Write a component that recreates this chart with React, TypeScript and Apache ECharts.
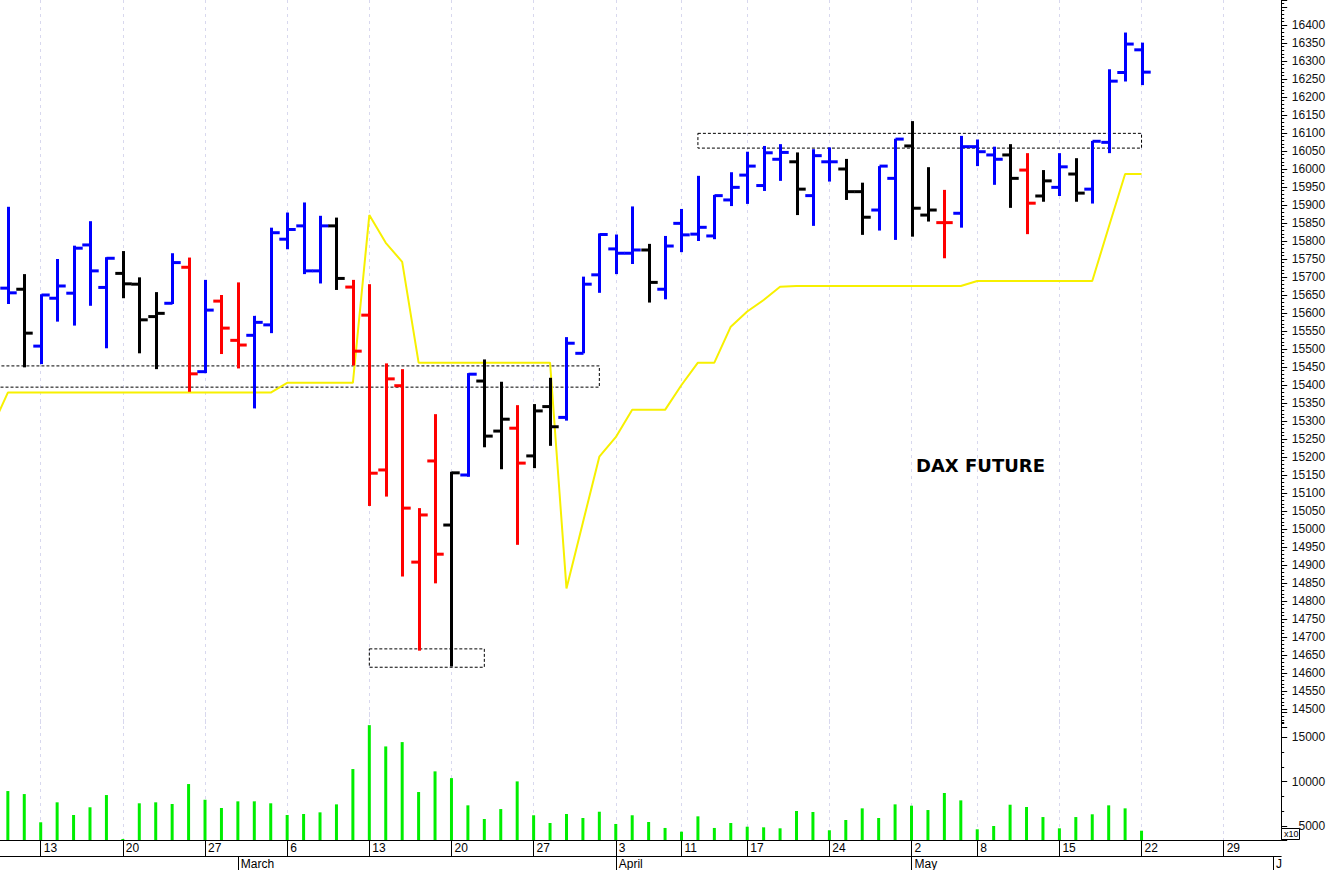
import React, { useEffect, useRef } from "react";
import * as echarts from "echarts";

// Trading days shown on the axis (Feb 8 is just off the left edge; May 23 - Jun 1 are empty future days)
const dates: string[] = [
  "2023-02-08", "2023-02-09", "2023-02-10",
  "2023-02-13", "2023-02-14", "2023-02-15", "2023-02-16", "2023-02-17",
  "2023-02-20", "2023-02-21", "2023-02-22", "2023-02-23", "2023-02-24",
  "2023-02-27", "2023-02-28", "2023-03-01", "2023-03-02", "2023-03-03",
  "2023-03-06", "2023-03-07", "2023-03-08", "2023-03-09", "2023-03-10",
  "2023-03-13", "2023-03-14", "2023-03-15", "2023-03-16", "2023-03-17",
  "2023-03-20", "2023-03-21", "2023-03-22", "2023-03-23", "2023-03-24",
  "2023-03-27", "2023-03-28", "2023-03-29", "2023-03-30", "2023-03-31",
  "2023-04-03", "2023-04-04", "2023-04-05", "2023-04-06",
  "2023-04-11", "2023-04-12", "2023-04-13", "2023-04-14",
  "2023-04-17", "2023-04-18", "2023-04-19", "2023-04-20", "2023-04-21",
  "2023-04-24", "2023-04-25", "2023-04-26", "2023-04-27", "2023-04-28",
  "2023-05-02", "2023-05-03", "2023-05-04", "2023-05-05",
  "2023-05-08", "2023-05-09", "2023-05-10", "2023-05-11", "2023-05-12",
  "2023-05-15", "2023-05-16", "2023-05-17", "2023-05-18", "2023-05-19",
  "2023-05-22", "2023-05-23", "2023-05-24", "2023-05-25", "2023-05-26",
  "2023-05-29", "2023-05-30", "2023-05-31", "2023-06-01",
];

// OHLC bars from Feb 9 (category index 1) to May 22 (category index 70)
const barOpen = [
  15669, 15666, 15508, 15641, 15655, 15789, 15671, 15710, 15680, 15590,
  15627, 15727, 15437, 15633, 15524, 15538, 15567, 15805, 15842, 15717,
  15842, 15672, 15594, 15164, 15398, 14908, 15189, 15011, 15150, 15411,
  15272, 15280, 15203, 15340, 15310, 15488, 15706, 15778, 15766, 15775,
  15666, 15849, 15819, 15814, 15914, 15983, 15954, 16027, 16020, 15926,
  16020, 16000, 15937, 15886, 15974, 16064, 15872, 15851, 15877, 16062,
  16039, 16039, 15997, 15925, 15949, 15986, 15944, 16074, 16268, 16331,
];
const barHigh = [
  15895, 15708, 15652, 15750, 15787, 15855, 15755, 15772, 15699, 15658,
  15766, 15754, 15692, 15650, 15685, 15592, 15837, 15879, 15907, 15870,
  15865, 15692, 15680, 15460, 15444, 15058, 15319, 15159, 15433, 15471,
  15409, 15344, 15347, 15420, 15533, 15701, 15821, 15818, 15896, 15792,
  15814, 15889, 15981, 15928, 15991, 16048, 16064, 16069, 16046, 16055,
  16060, 16028, 15962, 16008, 16084, 16133, 16005, 15942, 16092, 16082,
  16062, 16069, 16044, 15997, 16044, 16030, 16078, 16277, 16379, 16351,
];
const barLow = [
  15625, 15449, 15458, 15576, 15565, 15620, 15502, 15641, 15488, 15444,
  15625, 15381, 15433, 15486, 15446, 15335, 15544, 15777, 15708, 15682,
  15664, 15454, 15064, 15090, 14868, 14662, 14849, 14618, 15145, 15227,
  15166, 14956, 15169, 15231, 15301, 15488, 15656, 15708, 15736, 15629,
  15638, 15769, 15800, 15805, 15897, 15903, 15939, 15967, 15872, 15842,
  15965, 15914, 15817, 15829, 15803, 15812, 15854, 15752, 15837, 16008,
  15956, 15892, 15819, 15909, 15925, 15909, 15904, 16044, 16243, 16233,
];
const barClose = [
  15656, 15544, 15650, 15675, 15780, 15717, 15752, 15681, 15581, 15599,
  15740, 15431, 15608, 15558, 15511, 15574, 15823, 15832, 15717, 15842,
  15696, 15494, 15155, 15417, 15058, 15039, 14930, 15156, 15430, 15258,
  15305, 15183, 15328, 15284, 15516, 15680, 15818, 15766, 15775, 15685,
  15786, 15817, 15838, 15926, 15949, 16008, 16045, 16046, 15944, 16037,
  16020, 15937, 15866, 16008, 16083, 15891, 15886, 15851, 16062, 16048,
  16027, 15974, 15905, 15967, 16006, 15933, 16077, 16244, 16347, 16269,
];
// b = blue, r = red, k = black
const barColorCode = [
  "b", "k", "b", "b", "b", "b", "b", "k", "k", "k",
  "b", "r", "b", "r", "r", "b", "b", "b", "b", "b",
  "k", "r", "r", "r", "r", "r", "r", "k", "b", "k",
  "k", "r", "k", "k", "b", "b", "b", "b", "b", "k",
  "b", "b", "b", "b", "b", "b", "b", "b", "k", "b",
  "b", "k", "k", "b", "b", "k", "k", "r", "b", "b",
  "b", "k", "r", "k", "b", "k", "b", "b", "b", "b",
];

// Yellow line, category index 0 .. 70
const yellowLine = [
  15278, 15379, 15379, 15379, 15379, 15379, 15379, 15379, 15379, 15379,
  15379, 15379, 15379, 15379, 15379, 15379, 15379, 15379, 15406, 15406,
  15406, 15406, 15406, 15872, 15795, 15742, 15462, 15462, 15462, 15462,
  15462, 15462, 15462, 15462, 15462, 14835, 15018, 15201, 15255, 15331,
  15331, 15331, 15400, 15462, 15462, 15562, 15604, 15636, 15673, 15675,
  15675, 15675, 15675, 15675, 15675, 15675, 15675, 15675, 15675, 15675,
  15689, 15689, 15689, 15689, 15689, 15689, 15689, 15689, 15838, 15986,
  15986,
];

// Volume (x10), category index 1 .. 70
const volume = [
  8940, 8600, 5420, 7670, 6240, 7110, 8490, 3540, 7560, 7670,
  7480, 9730, 7960, 7030, 7780, 7780, 7560, 6240, 6350, 6540,
  7440, 11420, 16370, 13970, 14460, 8830, 11160, 10400, 7330, 5790,
  6910, 10030, 6210, 5340, 6350, 5900, 6610, 5230, 6210, 5450,
  4780, 4360, 6090, 4780, 5340, 4920, 4850, 4740, 6690, 6580,
  4520, 5680, 6990, 5900, 7440, 7290, 6800, 8720, 7890, 4630,
  5000, 7400, 7140, 6010, 4740, 6010, 6320, 7330, 6990, 4470,
];

// Dashed annotation boxes
const boxFrom = ["2023-02-08", "2023-03-13", "2023-04-12"];
const boxTo = ["2023-03-31", "2023-03-22", "2023-05-22"];
const boxHigh = [15453, 14667, 16099];
const boxLow = [15394, 14616, 16058];

const monthNames = ["", "Jan", "Feb", "March", "April", "May", "J"];

const COLORS: Record<string, string> = { b: "#0000ff", r: "#ff0000", k: "#000000" };

const dow = (s: string) => new Date(s + "T00:00:00Z").getUTCDay();
const isWeekStart = (i: number) => i > 0 && dow(dates[i]) <= dow(dates[i - 1]);
const isMonthStart = (i: number) =>
  i > 0 && dates[i].slice(5, 7) !== dates[i - 1].slice(5, 7);

const FONT = "Liberation Sans";
const GRID_COLOR = "#d8d8ee";

export default function App() {
  const ref = useRef<HTMLDivElement>(null);

  useEffect(() => {
    document.body.style.margin = "0";
    const chart = echarts.init(ref.current!, null, { renderer: "svg" });

    const ohlcData = barOpen.map((o, k) => [k + 1, o, barHigh[k], barLow[k], barClose[k]]);
    const volData = dates.map((_, i) => (i >= 1 && i <= volume.length ? volume[i - 1] : null));
    const yellowData = dates.map((_, i) => (i < yellowLine.length ? yellowLine[i] : null));

    const splitLine = {
      show: true,
      alignWithLabel: true,
      interval: (i: number) => isWeekStart(i),
      lineStyle: { color: GRID_COLOR, type: [3, 4], width: 1 },
    };

    const option: any = {
      animation: false,
      backgroundColor: "#ffffff",
      grid: [
        { left: -16.8, right: 46.8, top: 0, bottom: 143, containLabel: false, outerBoundsMode: "none" },
        { left: -16.8, right: 46.8, top: 712, bottom: 30, containLabel: false, outerBoundsMode: "none" },
      ],
      xAxis: [
        {
          type: "category",
          gridIndex: 0,
          data: dates,
          boundaryGap: true,
          axisLine: { show: false },
          axisTick: { show: false },
          axisLabel: { show: false },
          splitLine,
        },
        {
          type: "category",
          gridIndex: 1,
          data: dates,
          boundaryGap: true,
          position: "bottom",
          axisLine: { show: true, lineStyle: { color: "#000", width: 1 } },
          axisTick: {
            show: true,
            alignWithLabel: true,
            length: 16,
            interval: (i: number) => isWeekStart(i),
            lineStyle: { color: "#000", width: 1 },
          },
          axisLabel: {
            show: true,
            interval: (i: number) => isWeekStart(i),
            formatter: (v: string) => String(Number(v.slice(8, 10))),
            align: "left",
            margin: 2,
            padding: [0, 0, 0, 3],
            fontSize: 12,
            fontFamily: FONT,
            color: "#000",
          },
          splitLine,
        },
        {
          type: "category",
          gridIndex: 1,
          data: dates,
          boundaryGap: true,
          position: "bottom",
          offset: 16,
          axisLine: { show: true, lineStyle: { color: "#000", width: 1 } },
          axisTick: {
            show: true,
            alignWithLabel: true,
            length: 14,
            interval: (i: number) => isMonthStart(i),
            lineStyle: { color: "#000", width: 1 },
          },
          axisLabel: {
            show: true,
            interval: (i: number) => isMonthStart(i),
            formatter: (v: string) => monthNames[Number(v.slice(5, 7))],
            align: "left",
            margin: 2,
            padding: [0, 0, 0, 3],
            fontSize: 12,
            fontFamily: FONT,
            color: "#000",
          },
          splitLine: { show: false },
        },
      ],
      yAxis: [
        {
          type: "value",
          gridIndex: 0,
          position: "right",
          min: 14450,
          max: 16469.4,
          interval: 50,
          axisLine: { show: true, lineStyle: { color: "#000", width: 1 } },
          axisTick: { show: true, length: 6, lineStyle: { color: "#000" } },
          minorTick: { show: true, splitNumber: 5, length: 3, lineStyle: { color: "#000" } },
          axisLabel: {
            show: true,
            align: "right",
            margin: 44,
            fontSize: 12,
            fontFamily: FONT,
            color: "#111",
            formatter: (v: number) => (v >= 14500 && v <= 16400 ? String(v) : ""),
          },
          splitLine: { show: false },
          minorSplitLine: { show: false },
        },
        {
          type: "value",
          gridIndex: 1,
          position: "right",
          min: 3422,
          max: 17852,
          splitNumber: 3,
          minInterval: 5000,
          maxInterval: 5000,
          axisLine: { show: true, lineStyle: { color: "#000", width: 1 } },
          axisTick: { show: true, length: 6, lineStyle: { color: "#000" } },
          minorTick: { show: true, splitNumber: 3, length: 3, lineStyle: { color: "#000" } },
          axisLabel: {
            show: true,
            align: "right",
            margin: 44,
            fontSize: 12,
            fontFamily: FONT,
            color: "#111",
            formatter: (v: number) => (v % 5000 === 0 ? String(v) : ""),
          },
          splitLine: { show: false },
          minorSplitLine: { show: false },
        },
      ],
      series: [
        {
          type: "line",
          name: "stop",
          xAxisIndex: 0,
          yAxisIndex: 0,
          data: yellowData,
          showSymbol: false,
          symbol: "none",
          lineStyle: { color: "#f7f000", width: 2 },
          z: 2,
          silent: true,
          markArea: {
            silent: true,
            label: { show: false },
            itemStyle: {
              color: "rgba(0,0,0,0)",
              borderColor: "#000",
              borderWidth: 1,
              borderType: [3, 2],
            },
            data: boxFrom.map((f, k) => [
              { xAxis: f, yAxis: boxHigh[k] },
              { xAxis: boxTo[k], yAxis: boxLow[k] },
            ]),
          },
        },
        {
          type: "custom",
          name: "DAX",
          xAxisIndex: 0,
          yAxisIndex: 0,
          z: 3,
          silent: true,
          encode: { x: 0, y: [1, 2, 3, 4] },
          data: ohlcData,
          renderItem: (params: any, api: any) => {
            const x = api.value(0);
            const pH = api.coord([x, api.value(2)]);
            const pL = api.coord([x, api.value(3)]);
            const pO = api.coord([x, api.value(1)]);
            const pC = api.coord([x, api.value(4)]);
            const cx = Math.round(pH[0]) + 0.5;
            const half = api.size([1, 0])[0] * 0.5;
            const color = COLORS[barColorCode[params.dataIndex]];
            const style = { stroke: color, lineWidth: 3, lineCap: "butt" };
            return {
              type: "group",
              children: [
                { type: "line", shape: { x1: cx, y1: pH[1], x2: cx, y2: pL[1] }, style },
                { type: "line", shape: { x1: cx - half, y1: pO[1], x2: cx, y2: pO[1] }, style },
                { type: "line", shape: { x1: cx, y1: pC[1], x2: cx + half, y2: pC[1] }, style },
              ],
            };
          },
        },
        {
          type: "bar",
          name: "Volume",
          xAxisIndex: 1,
          yAxisIndex: 1,
          data: volData,
          barWidth: 3,
          clip: true,
          silent: true,
          itemStyle: { color: "#00ee00" },
        },
      ],
      graphic: [
        {
          type: "rect",
          left: 1281,
          top: 828,
          shape: { width: 18, height: 11 },
          style: { fill: "#fff", stroke: "#000", lineWidth: 1 },
          z: 100,
        },
        {
          type: "text",
          left: 1284,
          top: 829.5,
          style: { text: "x10", fontSize: 9, fontFamily: FONT, fill: "#000" },
          z: 101,
        },
        {
          type: "text",
          left: 916,
          top: 456,
          style: {
            text: "DAX FUTURE",
            fontSize: 18,
            fontWeight: "bold",
            fontFamily: "DejaVu Sans",
            fill: "#000",
          },
          z: 101,
        },
      ],
    };

    chart.setOption(option);
    return () => chart.dispose();
  }, []);

  return (
    <div
      ref={ref}
      style={{ position: "absolute", left: 0, top: 0, width: 1328, height: 870, background: "#fff" }}
    />
  );
}
